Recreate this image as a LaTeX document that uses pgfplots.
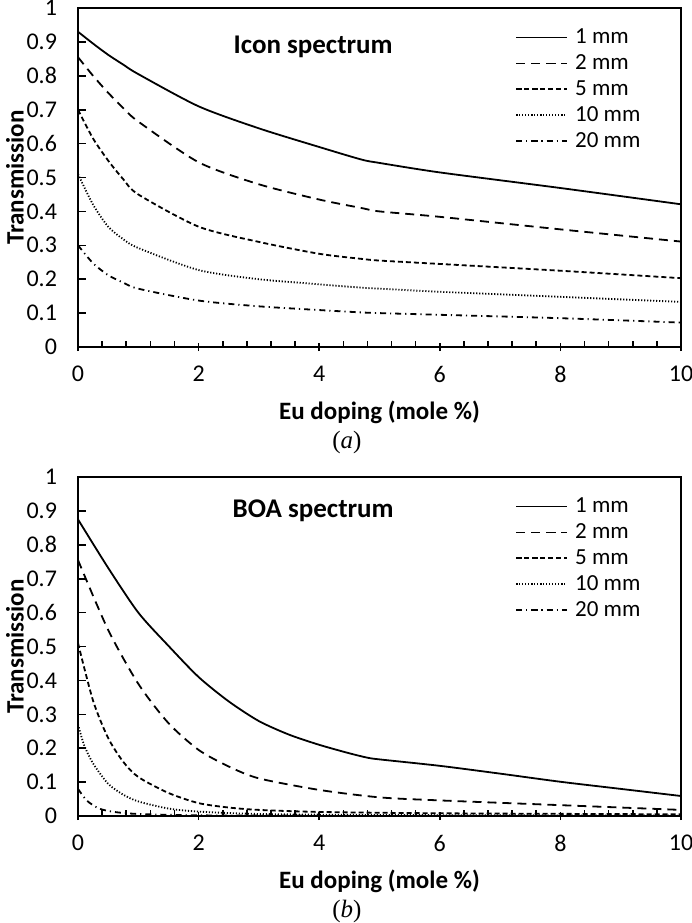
\documentclass[border=0pt]{standalone}
\usepackage{fontspec}
\setmainfont{Carlito}
\newfontfamily\serif{Liberation Serif}
\usepackage{pgfplots}
\pgfplotsset{compat=1.18}
\pgfplotstableread{
x    a    b    c    d    e
0    0.930 0.855 0.700 0.510 0.300
0.25 0.895 0.800 0.615 0.420 0.247
0.5  0.862 0.750 0.550 0.355 0.212
0.75 0.833 0.705 0.495 0.318 0.190
1    0.805 0.665 0.450 0.292 0.172
2    0.710 0.545 0.355 0.227 0.137
3    0.645 0.480 0.310 0.200 0.120
4    0.590 0.435 0.275 0.185 0.109
4.7  0.553 0.410 0.260 0.175 0.102
5    0.543 0.400 0.255 0.172 0.100
6    0.515 0.384 0.245 0.163 0.095
8    0.469 0.347 0.225 0.148 0.085
10   0.421 0.311 0.203 0.133 0.072
}\icon
\pgfplotstableread{
x    a
0    0.875
0.5  0.732
1    0.600
1.5  0.502
2    0.410
2.5  0.338
3    0.280
3.5  0.240
4    0.210
4.5  0.185
4.8  0.172
5    0.167
6    0.148
7    0.125
8    0.101
9    0.080
10   0.059
}\boaA
\pgfplotstableread{
x    b
0    0.755
0.5  0.549
1    0.390
1.5  0.274
2    0.195
2.5  0.146
3    0.111
4    0.077
5    0.055
6    0.046
8    0.032
10   0.018
}\boaB
\pgfplotstableread{
x    c
0    0.510
0.25 0.340
0.5  0.230
0.75 0.160
1    0.115
1.5  0.068
2    0.038
2.5  0.025
3    0.018
4    0.012
6    0.008
10   0.005
}\boaC
\pgfplotstableread{
x    d
0    0.270
0.1  0.210
0.25 0.155
0.5  0.095
0.75 0.063
1    0.043
1.5  0.022
2    0.013
3    0.006
5    0.003
10   0.001
}\boaD
\pgfplotstableread{
x    e
0    0.080
0.15 0.045
0.35 0.022
0.6  0.012
1    0.006
2    0.002
4    0.001
10   0.000
}\boaE
\pgfplotsset{
  myaxis/.style={
    scale only axis, width=301.5pt, height=169.5pt,
    xmin=0, xmax=10, ymin=0, ymax=1,
    clip mode=individual,
    xtick={0,2,...,10}, ytick={0,0.1,...,1.0},
    minor x tick num=4,
    xtick pos=left, ytick pos=left,
    tick align=inside,
    major tick length=4pt, minor tick length=3pt,
    major x tick style={yshift=-2pt},
    every tick/.style={black, line width=0.8pt},
    axis line style={line width=0.8pt},
    /pgf/number format/assume math mode=true,
    /pgf/number format/fixed,
    tick label style={font=\fontsize{12}{14}\selectfont},
    yticklabel style={xshift=-7pt},
    xticklabel style={yshift=-6pt},
    xlabel={\bfseries Eu doping (mole \%)},
    ylabel={\bfseries Transmission},
    label style={font=\fontsize{12.5}{14}\selectfont},
    x label style={at={(axis description cs:0.5,-0.192)}, anchor=center},
    y label style={at={(axis description cs:-0.1045,0.5)}, anchor=center},
    legend cell align=left,
    legend style={draw=none, fill=none, at={(axis description cs:0.94,0.952)}, anchor=north east,
      font=\fontsize{11.5}{13}\selectfont, row sep=0pt, inner sep=0pt,
      nodes={inner sep=2pt}},
    legend image code/.code={\draw[#1] plot coordinates {(0cm,0cm) (0.88cm,0cm)};
      \path (-0.02cm,0) (0.95cm,0);},
    every axis plot/.append style={black, line width=0.9pt, smooth, tension=0.45},
  },
  s1/.style={solid},
  s2/.style={dash pattern=on 4.5pt off 3pt},
  s5/.style={dash pattern=on 2.5pt off 1.5pt},
  s10/.style={dash pattern=on 0.6pt off 0.9pt},
  s20/.style={dash pattern=on 3pt off 2pt on 0.6pt off 2pt},
}
\begin{document}
\begin{tikzpicture}
\begin{axis}[myaxis]
\addplot[s1] table[x=x,y=a]{\icon};
\addplot[s2] table[x=x,y=b]{\icon};
\addplot[s5] table[x=x,y=c]{\icon};
\addplot[s10] table[x=x,y=d]{\icon};
\addplot[s20] table[x=x,y=e]{\icon};
\legend{1 mm,2 mm,5 mm,10 mm,20 mm}
\node[font=\fontsize{13.5}{15}\selectfont\bfseries] at (axis cs:3.9,0.886) {Icon spectrum};
\node[font=\fontsize{12.5}{14}\selectfont\serif] at (axis description cs:0.446,-0.283) {(\textit{a})};
\end{axis}
\begin{axis}[myaxis, at={(0,-234.5pt)}]
\addplot[s1] table[x=x,y=a]{\boaA};
\addplot[s2] table[x=x,y=b]{\boaB};
\addplot[s5] table[x=x,y=c]{\boaC};
\addplot[s10] table[x=x,y=d]{\boaD};
\addplot[s20] table[x=x,y=e]{\boaE};
\legend{1 mm,2 mm,5 mm,10 mm,20 mm}
\node[font=\fontsize{13.5}{15}\selectfont\bfseries] at (axis cs:3.9,0.90) {BOA spectrum};
\node[font=\fontsize{12.5}{14}\selectfont\serif] at (axis description cs:0.446,-0.283) {(\textit{b})};
\end{axis}
\pgfresetboundingbox
\path (-39pt,-288pt) rectangle (307pt,173.5pt);
\end{tikzpicture}
\end{document}
